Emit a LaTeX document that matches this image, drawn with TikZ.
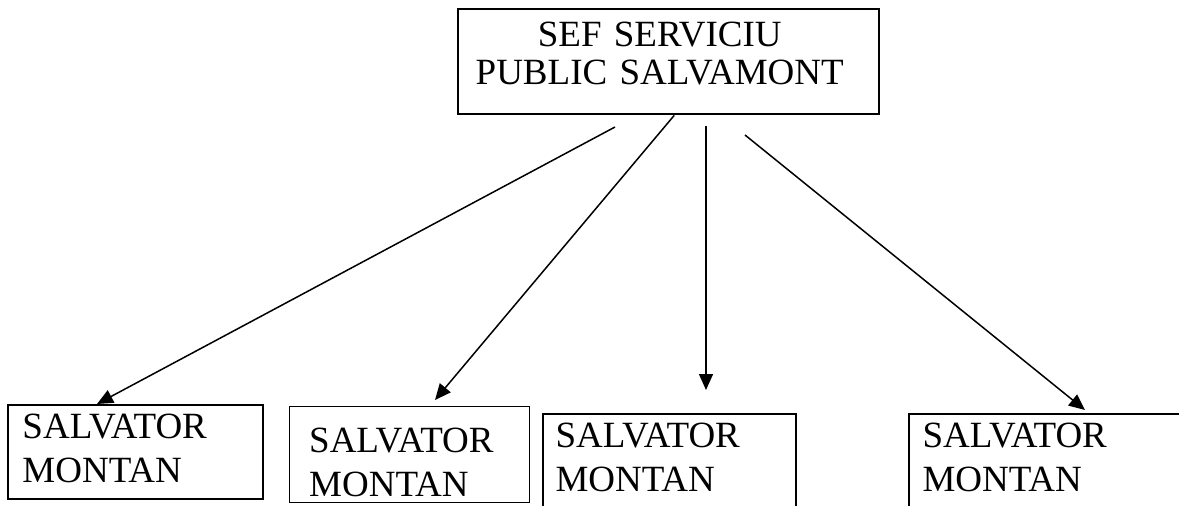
\documentclass[tikz,border=0pt]{standalone}
\usepackage{fontspec}
\setmainfont{Liberation Serif}
\usetikzlibrary{arrows.meta}

\tikzstyle{chief} = [draw, line width=2.4pt, anchor=north west, text width=391pt, align=center, inner xsep=15pt, inner ysep=13pt, text depth=54.5pt, font=\fontsize{37}{38}\selectfont]
\tikzstyle{rescuer} = [draw, line width=2pt, anchor=north west, align=left, inner ysep=9pt, font=\fontsize{37}{44}\selectfont]
\tikzstyle{down} = [-{Triangle[length=16pt,width=14pt]}, line width=1.5pt]

\begin{document}
\begin{tikzpicture}[x=1pt, y=-1pt]
  \useasboundingbox (0,0) rectangle (1179,506);
  \node[chief] (sef) at (457,8) {SEF SERVICIU\rule{18pt}{0pt}\\PUBLIC SALVAMONT\rule{18pt}{0pt}};
  \node[rescuer, text width=226pt, inner xsep=14.5pt, text depth=51pt] (s1) at (7,404) {SALVATOR\\MONTAN};
  \node[rescuer, line width=1.4pt, text width=201pt, inner xsep=19.5pt, inner ysep=21pt, text depth=29pt] (s2) at (289,406) {SALVATOR\\MONTAN};
  \node[rescuer, text width=228pt, inner xsep=12.5pt, text depth=74pt] (s3) at (542,413) {SALVATOR\\MONTAN};
  \node[rescuer, text width=265pt, inner xsep=13.5pt, text depth=74pt] (s4) at (908,413) {SALVATOR\\MONTAN};
  % arrows leave from just below the chief's box
  \coordinate (f1) at (615,127);
  \coordinate (f3) at (706,126);
  \coordinate (f4) at (745,135);
  \draw[down] (f1) -- ([xshift=90pt]s1.north west);
  \draw[down] ([xshift=5.5pt]sef.south) -- ([shift={(146,-6)}]s2.north west);
  \draw[down] (f3) -- ([shift={(164,-23)}]s3.north west);
  \draw[down] (f4) -- ([shift={(177,-3)}]s4.north west);
\end{tikzpicture}
\end{document}
